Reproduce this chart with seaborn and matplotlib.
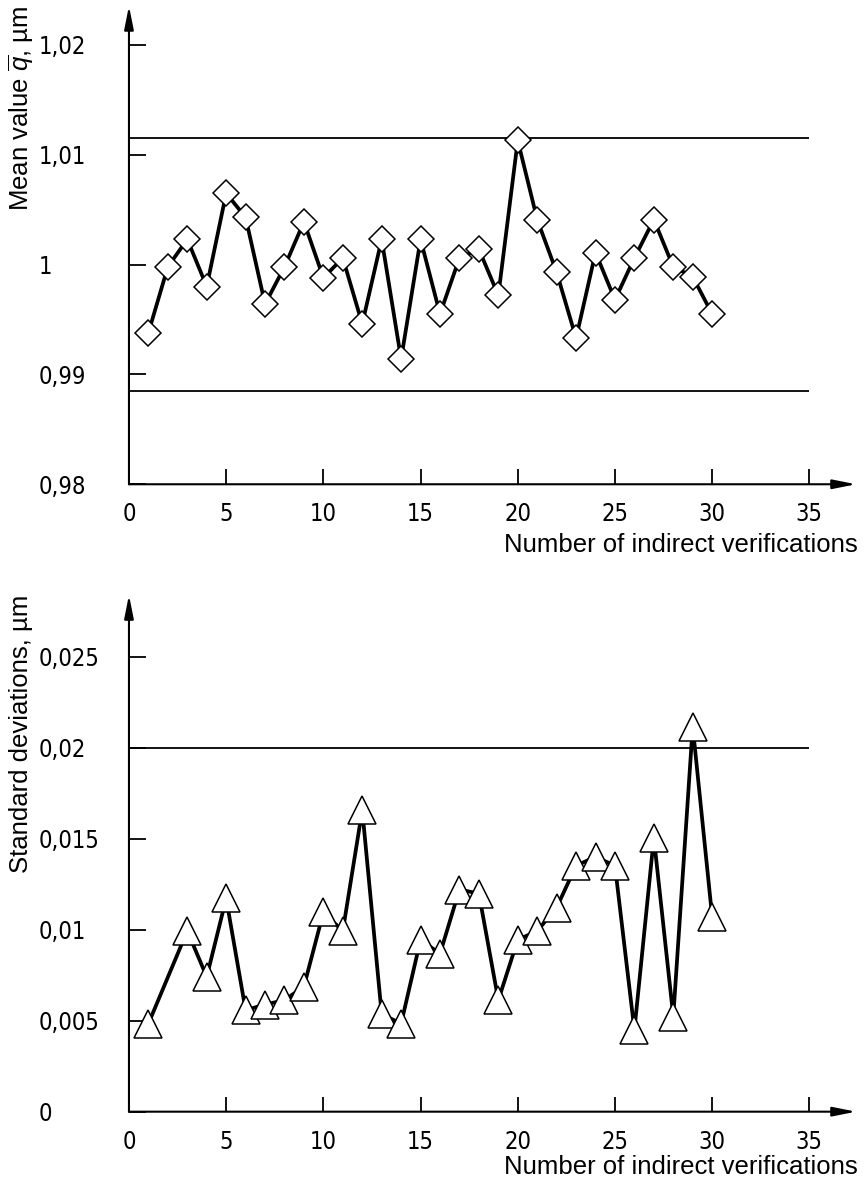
import numpy as np
import pandas as pd
import matplotlib
matplotlib.use("Agg")
import matplotlib.pyplot as plt
import seaborn as sns
from matplotlib import font_manager

# mean values (top panel)
n_mean = list(range(1, 31))
mean_q = [0.9938, 0.9998, 1.0023, 0.9980, 1.0065, 1.0043, 0.9964, 0.9998, 1.0039, 0.9988,
          1.0006, 0.9946, 1.0023, 0.9914, 1.0023, 0.9955, 1.0006, 1.0014, 0.9972, 1.0113,
          1.0041, 0.9993, 0.9933, 1.0011, 0.9968, 1.0006, 1.0041, 0.9998, 0.9989, 0.9955]
mean_limits = [1.0115, 0.9885]
mean_ticks = [0.98, 0.99, 1.0, 1.01, 1.02]
mean_ticklabels = ["0,98", "0,99", "1", "1,01", "1,02"]

# standard deviations (bottom panel), no value at n=2
n_std = [1, 3, 4, 5, 6, 7, 8, 9, 10, 11, 12, 13, 14, 15, 16, 17, 18, 19, 20,
         21, 22, 23, 24, 25, 26, 27, 28, 29, 30]
std_dev = [0.00484, 0.00994, 0.00741, 0.01172, 0.00558, 0.00589, 0.00613, 0.00688, 0.01095,
           0.00993, 0.01658, 0.00536, 0.00484, 0.00945, 0.00868, 0.01221, 0.01199, 0.00613,
           0.00945, 0.00993, 0.01122, 0.01352, 0.01401, 0.01352, 0.00449, 0.01506, 0.00523,
           0.02117, 0.01071]
std_limit = 0.02
std_ticks = [0, 0.005, 0.01, 0.015, 0.02, 0.025]
std_ticklabels = ["0", "0,005", "0,01", "0,015", "0,02", "0,025"]

x_ticks = [0, 5, 10, 15, 20, 25, 30, 35]

sns.set_style("white")
plt.rcParams["font.family"] = ["Liberation Sans", "DejaVu Sans"]
plt.rcParams["mathtext.fontset"] = "custom"
plt.rcParams["mathtext.rm"] = "Liberation Sans"
plt.rcParams["mathtext.it"] = "Liberation Sans:italic"
plt.rcParams["text.color"] = "black"
plt.rcParams["axes.labelcolor"] = "black"
plt.rcParams["xtick.color"] = "black"
plt.rcParams["ytick.color"] = "black"

# narrow face for the tick numbers
tick_font = font_manager.FontProperties(family="DejaVu Sans", stretch="condensed", size=17)

fig = plt.figure(figsize=(8.65, 11.91), dpi=100)
ax1 = fig.add_axes([0.1491, 0.5934, 0.8405, 0.4016])
ax2 = fig.add_axes([0.1491, 0.0666, 0.8405, 0.4338])


def style_axis(ax, ymin, ymax, yticks, ylabels, ylabel, xlab_y):
    ax.set_xlim(0, 37.4)
    ax.set_ylim(ymin, ymax)
    for s in ax.spines.values():
        s.set_visible(False)
    arrow = dict(arrowstyle="-|>,head_length=1.4,head_width=0.28", color="k",
                 lw=1.5, shrinkA=0, shrinkB=0, mutation_scale=10)
    ax.annotate("", xy=(1, 0), xytext=(0, 0), xycoords="axes fraction",
                arrowprops=arrow, annotation_clip=False)
    ax.annotate("", xy=(0, 1), xytext=(0, 0), xycoords="axes fraction",
                arrowprops=arrow, annotation_clip=False)
    ax.set_xticks(x_ticks)
    ax.set_xticklabels([str(t) for t in x_ticks], fontproperties=tick_font)
    ax.set_yticks(yticks)
    ax.set_yticklabels(ylabels, fontproperties=tick_font, ha="left")
    ax.tick_params(axis="x", direction="in", length=11, width=1.3, color="k", pad=13,
                   bottom=True, labelcolor="k")
    ax.tick_params(axis="y", direction="in", length=12, width=1.3, color="k", pad=65,
                   left=True, labelcolor="k")
    ax.set_xlabel("Number of indirect verifications", fontsize=18.5, color="k")
    ax.xaxis.set_label_coords(1.003, xlab_y)
    ax.xaxis.label.set_ha("right")
    ax.xaxis.label.set_va("center")
    ax.set_ylabel(ylabel, fontsize=18.5, color="k")
    ax.yaxis.set_label_coords(-0.149, 1.0)
    ax.yaxis.label.set_ha("right")
    ax.yaxis.label.set_va("center")
    ax.grid(False)


style_axis(ax1, 0.98, 1.02355, mean_ticks, mean_ticklabels,
           r"Mean value $\overline{q}$, µm", -0.128)
style_axis(ax2, 0.0, 0.0284, std_ticks, std_ticklabels, "Standard deviations, µm", -0.108)

ax1.hlines(mean_limits, 0, 35, color="k", lw=1.3)
ax2.hlines(std_limit, 0, 35, color="k", lw=1.3)

sns.lineplot(x=n_mean, y=mean_q, ax=ax1, color="k", lw=2.7, marker="D", markersize=13.5,
             markerfacecolor="white", markeredgecolor="k", markeredgewidth=1.1,
             zorder=3)
sns.lineplot(x=n_std, y=std_dev, ax=ax2, color="k", lw=2.7, marker="^", markersize=20,
             markerfacecolor="white", markeredgecolor="k", markeredgewidth=1.1,
             zorder=3)

fig.savefig("out.png", dpi=100)
